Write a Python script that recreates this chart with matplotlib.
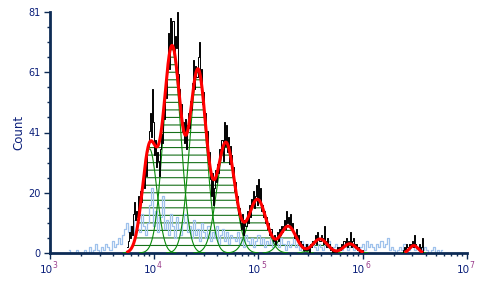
import numpy as np
import matplotlib.pyplot as plt
from matplotlib.ticker import FixedLocator, NullFormatter, LogLocator


# DATA
# black: measured histogram, bins every 0.01 decade starting at 10^3.74
black_start = 3.74
black_step = 0.01
black_counts = [
    2, 4, 7, 5, 9, 6, 13, 17, 11, 14,
    12, 19, 14, 21, 17, 24, 27, 22, 30, 26,
    36, 41, 47, 39, 55, 44, 33, 38, 29, 34,
    31, 26, 35, 40, 37, 49, 45, 56, 52, 63,
    74, 62, 79, 70, 78, 66, 73, 69, 81, 60,
    55, 47, 50, 41, 44, 37, 45, 35, 43, 47,
    42, 51, 48, 57, 65, 55, 63, 59, 66, 71,
    58, 62, 50, 54, 44, 47, 38, 41, 30, 34,
    25, 19, 27, 16, 22, 28, 24, 30, 27, 35,
    33, 38, 31, 44, 36, 43, 34, 39, 30, 36,
    33, 26, 29, 21, 24, 17, 19, 13, 15, 10,
    8, 13, 6, 11, 9, 14, 10, 16, 12, 18,
    17, 21, 15, 19, 23, 16, 25, 18, 22, 14,
    16, 12, 14, 10, 12, 8, 10, 6, 8, 5,
    4, 6, 3, 5, 7, 4, 8, 6, 9, 7,
    9, 11, 8, 14, 10, 12, 9, 13, 8, 10,
    7, 5, 8, 4, 6, 3, 4, 2, 3, 1,
    2, 1, 3, 1, 2, 0, 3, 2, 4, 3,
    4, 6, 3, 7, 5, 4, 6, 5, 3, 9,
    4, 2, 5, 2, 3, 1, 2, 0, 1, 0,
    1, 0, 2, 1, 2, 1, 3, 2, 4, 3,
    5, 2, 4, 3, 7, 2, 4, 5, 3, 2,
    3, 1, 2, 0, 1, 0, 1, 0, 0, 0,
]
far_start = 6.38
far_counts = [0, 1, 2, 1, 3, 2, 2, 3, 2, 3, 4, 2, 6, 3, 2, 2, 3, 1, 2, 5, 0]

# light blue: second histogram, bins every 0.02 decade starting at 10^3.18
blue_start = 3.18
blue_step = 0.02
blue_counts = [
    1, 0, 0, 0, 1, 0, 0, 0, 1, 0,
    2, 0, 1, 3, 1, 0, 2, 1, 3, 2,
    1, 4, 2, 3, 5, 3, 6, 8, 10, 7,
    9, 6, 11, 8, 7, 13, 9, 6, 10, 16,
    22, 9, 14, 7, 12, 19, 8, 11, 6, 13,
    9, 5, 12, 8, 6, 10, 13, 7, 9, 5,
    11, 6, 8, 4, 10, 7, 5, 9, 4, 7,
    5, 9, 3, 6, 8, 4, 7, 3, 6, 5,
    4, 7, 3, 5, 2, 6, 4, 3, 5, 2,
    4, 6, 3, 5, 2, 4, 3, 5, 2, 4,
    3, 2, 5, 3, 1, 4, 2, 3, 5, 2,
    3, 1, 4, 2, 3, 1, 2, 4, 2, 1,
    3, 2, 1, 3, 2, 4, 1, 2, 3, 1,
    2, 1, 3, 2, 1, 2, 3, 1, 2, 1,
    2, 3, 1, 4, 2, 3, 2, 1, 3, 2,
    4, 2, 3, 5, 1, 2, 1, 0, 1, 2,
    1, 3, 2, 1, 2, 3, 1, 2, 1, 2,
    1, 2, 1, 0, 1, 2, 0, 1, 0, 1,
]

# fitted generations (green): position, height, width in decades
peak_pos = [9020, 14800, 26300, 48750, 97700, 192800, 389000, 750000, 3090000]
peak_height = [35, 69, 61, 37, 18, 9, 4.7, 3.1, 2.5]
peak_sigma = [0.07, 0.082, 0.08, 0.085, 0.085, 0.075, 0.07, 0.06, 0.04]

y_ticks = [0, 20.25, 40.5, 60.75, 81]
y_ticklabels = ["0", "20", "41", "61", "81"]
x_decades = [3, 4, 5, 6, 7]

NAVY = "#0b1f7a"
EXPO = "#9a3c8c"
SPINE = "#0d2b55"


def main():
    fig = plt.figure(figsize=(5.04, 2.87), dpi=100)
    ax = fig.add_axes([50 / 504, 1 - 253 / 287, 417 / 504, 241 / 287])
    ax.set_xscale("log")

    # model curves
    lx = np.linspace(3.6, 6.8, 3000)
    xs = 10 ** lx
    comps = []
    for p, h, s in zip(peak_pos, peak_height, peak_sigma):
        comps.append(h * np.exp(-0.5 * ((lx - np.log10(p)) / s) ** 2))
    fit = np.sum(comps, axis=0)

    # horizontal hatching under the fit
    for lvl in np.arange(1, 32) * 81 / 32:
        ax.plot(xs, np.where(fit > lvl, lvl, np.nan), color="#17701a", lw=0.8, zorder=1)

    bx = 10 ** (blue_start + blue_step * np.arange(len(blue_counts)))
    ax.step(bx, blue_counts, where="mid", color="#9fc2ec", lw=0.9, zorder=2)

    for c in comps:
        ax.plot(xs, np.where(c > 0.05, c, np.nan), color="#0a8a0a", lw=0.8, zorder=3)

    kx = 10 ** (black_start + black_step * np.arange(len(black_counts)))
    ax.step(kx, black_counts, where="mid", color="black", lw=0.7, zorder=4)
    fx = 10 ** (far_start + black_step * np.arange(len(far_counts)))
    ax.step(fx, far_counts, where="mid", color="black", lw=0.7, zorder=4)

    ax.plot(xs, np.where(fit > 0.4, fit, np.nan), color="#ff0000", lw=2.2, zorder=5)

    ax.set_xlim(1e3, 1e7)
    ax.set_ylim(0, 81)

    for side in ["top", "right"]:
        ax.spines[side].set_visible(False)
    for side in ["left", "bottom"]:
        ax.spines[side].set_color(SPINE)
        ax.spines[side].set_linewidth(2.0)

    ax.yaxis.set_major_locator(FixedLocator(y_ticks))
    ax.set_yticklabels(y_ticklabels)
    ax.yaxis.set_minor_locator(FixedLocator(np.linspace(0, 81, 17)))
    ax.set_xticks([10.0 ** e for e in x_decades])
    ax.set_xticklabels([])
    ax.xaxis.set_minor_locator(LogLocator(base=10, subs=np.arange(2, 10), numticks=20))
    ax.xaxis.set_minor_formatter(NullFormatter())

    # decade labels: "10" and its exponent in a second colour
    for e in x_decades:
        ax.annotate("10", xy=(10.0 ** e, 0), xycoords=("data", "axes fraction"),
                    xytext=(-2.8, -12.3), textcoords="offset points", ha="center",
                    va="center", color=NAVY, fontsize=7.5, annotation_clip=False)
        ax.annotate(str(e), xy=(10.0 ** e, 0), xycoords=("data", "axes fraction"),
                    xytext=(3.6, -8.8), textcoords="offset points", ha="center",
                    va="center", color=EXPO, fontsize=5.5, annotation_clip=False)

    ax.tick_params(axis="both", which="major", direction="out", length=4.5, width=1,
                   color=SPINE, labelcolor=NAVY, labelsize=7, pad=2)
    ax.tick_params(axis="both", which="minor", direction="out", length=2.5, width=1,
                   color=SPINE)

    ax.set_ylabel("Count", color=NAVY, fontsize=8.5)
    ax.yaxis.set_label_coords(-0.06, 0.5)

    fig.savefig("out.png", dpi=100)


if __name__ == "__main__":
    main()
